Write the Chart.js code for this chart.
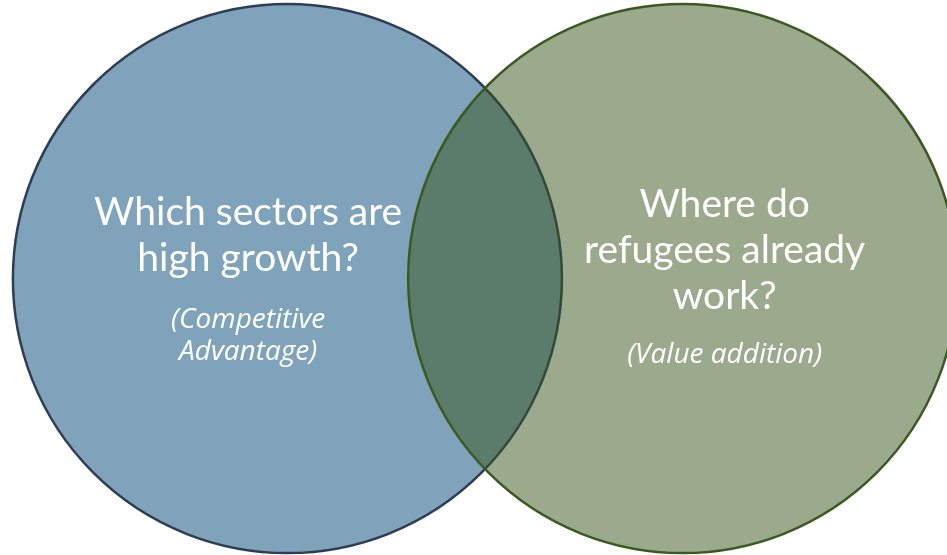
<!DOCTYPE html>
<html lang="en">
<head>
    <meta charset="UTF-8">
    <title>Venn: growth sectors vs refugee work</title>
    <style>
        html, body { margin: 0; padding: 0; background: #ffffff; }
        #venn { display: block; }
    </style>
</head>
<body>
    <canvas id="venn" width="947" height="555"></canvas>

    <script src="https://cdn.jsdelivr.net/npm/chart.js"></script>
    <script>
        // Venn sets: centre (in radius units) and radius
        const setNames = ["Which sectors are high growth?", "Where do refugees already work?"];
        const centersX = [-0.72, 0.72];
        const centersY = [0, 0];
        const radii = [1, 1];

        // Text inside each circle
        const titleLines = [
            ["Which sectors are", "high growth?"],
            ["Where do", "refugees already", "work?"]
        ];
        const noteLines = [
            ["(Competitive", "Advantage)"],
            ["(Value addition)"]
        ];

        const fills = ["#7fa3ba", "rgba(56, 86, 28, 0.5)"];
        const borders = ["#2f3d54", "#3a5a22"];

        // draws the labels inside the circles
        const vennLabels = {
            id: "vennLabels",
            afterDatasetsDraw(chart) {
                const ctx = chart.ctx;
                const x = chart.scales.x;
                const y = chart.scales.y;
                const unit = x.getPixelForValue(1) - x.getPixelForValue(0);
                // label anchor offset from circle centre and baseline of first line
                const layout = [
                    { dx: -0.143, title0: -0.195, note0: 0.18 },
                    { dx: 0.153, title0: -0.225, note0: 0.307 }
                ];
                ctx.save();
                ctx.fillStyle = "#ffffff";
                ctx.textAlign = "center";
                ctx.textBaseline = "alphabetic";
                titleLines.forEach((lines, i) => {
                    const cx = x.getPixelForValue(centersX[i]) + layout[i].dx * unit;
                    const cy = y.getPixelForValue(centersY[i]);
                    ctx.font = "39px Lato";
                    lines.forEach((line, j) => {
                        ctx.fillText(line, cx, cy + layout[i].title0 * unit + j * 46);
                    });
                    ctx.font = "italic 28px 'Open Sans'";
                    noteLines[i].forEach((line, j) => {
                        ctx.fillText(line, cx, cy + layout[i].note0 * unit + j * 32);
                    });
                });
                ctx.restore();
            }
        };

        const ctx = document.getElementById("venn").getContext("2d");
        new Chart(ctx, {
            type: "scatter",
            data: {
                labels: setNames,
                datasets: [{
                    label: "Sets",
                    data: centersX.map((cx, i) => ({ x: cx, y: centersY[i] })),
                    showLine: false,
                    pointBackgroundColor: fills,
                    pointBorderColor: borders,
                    pointBorderWidth: 2.5,
                    pointRadius: (c) => {
                        const s = c.chart.scales.x;
                        const r = s.getPixelForValue(radii[c.dataIndex]) - s.getPixelForValue(0);
                        return isFinite(r) ? r : 0;
                    },
                    clip: false
                }]
            },
            options: {
                responsive: false,
                animation: false,
                events: [],
                layout: { autoPadding: false, padding: 0 },
                plugins: {
                    legend: { display: false },
                    tooltip: { enabled: false }
                },
                scales: {
                    x: { type: "linear", min: -1.767, max: 1.683, display: false },
                    y: { type: "linear", min: -1.007, max: 1.015, display: false }
                }
            },
            plugins: [vennLabels]
        });
    </script>
</body>
</html>
